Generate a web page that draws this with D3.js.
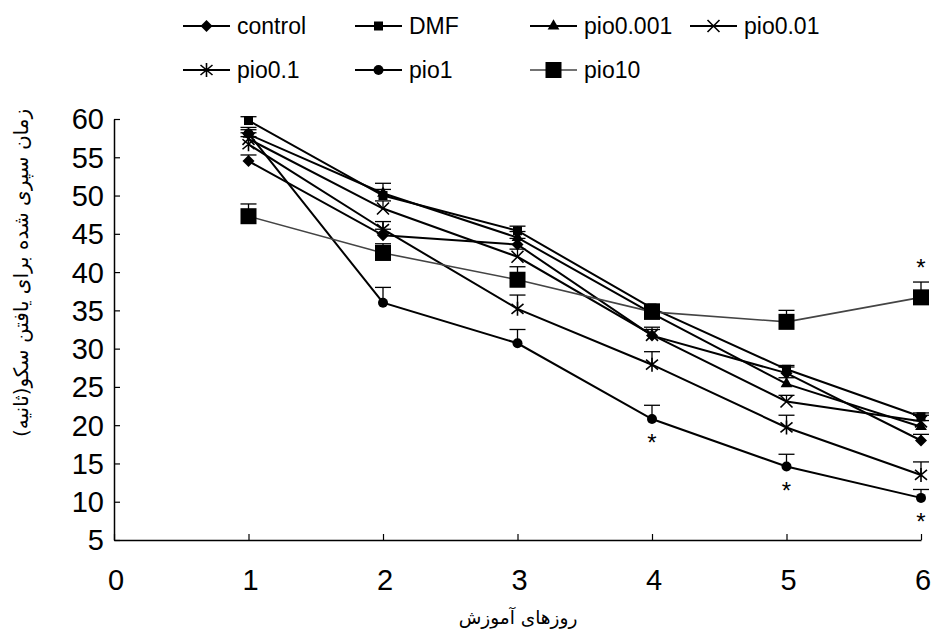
<!DOCTYPE html>
<html>
<head>
<meta charset="utf-8">
<script src="https://cdn.jsdelivr.net/npm/d3@7"></script>
<style>
  body { margin: 0; background: #fff; }
  svg text { font-family: "Liberation Sans", Arial, sans-serif; }
</style>
</head>
<body>
<svg id="chart" width="941" height="634"></svg>
<script>
// days on the x axis
const days = [1, 2, 3, 4, 5, 6];
const xTicks = [0, 1, 2, 3, 4, 5, 6];
const yTicks = [5, 10, 15, 20, 25, 30, 35, 40, 45, 50, 55, 60];

// mean time (s) per group
const control  = [54.5, 44.8, 43.6, 31.7, 26.8, 18.0];
const dmf      = [59.8, 50.0, 45.4, 35.3, 27.3, 21.1];
const pio0001  = [58.0, 50.3, 44.5, 34.6, 25.4, 19.8];
const pio001   = [57.4, 48.3, 42.0, 31.8, 23.1, 20.5];
const pio01    = [56.7, 45.6, 35.2, 27.9, 19.7, 13.5];
const pio1     = [58.1, 36.0, 30.7, 20.8, 14.6, 10.5];
const pio10    = [47.3, 42.5, 39.0, 34.8, 33.5, 36.7];

// upper error bars
const controlErr = [0.8, 0.8, 0.8, 0.8, 0.8, 0.8];
const dmfErr     = [0.5, 0.8, 0.6, 0.5, 0.5, 0.5];
const pio0001Err = [0.6, 1.3, 0.8, 0.8, 0.8, 0.8];
const pio001Err  = [0.8, 1.0, 1.0, 1.0, 0.8, 0.8];
const pio01Err   = [1.0, 1.0, 1.8, 1.7, 1.6, 1.7];
const pio1Err    = [0.8, 2.0, 1.8, 1.8, 1.6, 1.1];
const pio10Err   = [1.6, 1.2, 1.7, 1.0, 1.5, 2.0];

// significance stars: [series, day index, above/below]
const stars = [["pio1", 3, "below"], ["pio1", 4, "below"], ["pio1", 5, "below"], ["pio10", 5, "above"]];

const series = [
  {name: "control",  values: control, err: controlErr, marker: "diamond"},
  {name: "DMF",      values: dmf,     err: dmfErr,     marker: "square"},
  {name: "pio0.001", values: pio0001, err: pio0001Err, marker: "triangle"},
  {name: "pio0.01",  values: pio001,  err: pio001Err,  marker: "x"},
  {name: "pio0.1",   values: pio01,   err: pio01Err,   marker: "asterisk"},
  {name: "pio1",     values: pio1,    err: pio1Err,    marker: "circle"},
  {name: "pio10",    values: pio10,   err: pio10Err,   marker: "bigsquare", color: "#444", width: 1.6}
];

const svg = d3.select("#chart");
const x = d3.scaleLinear().domain([0, 6]).range([114, 921]);
const y = d3.scaleLinear().domain([5, 60]).range([540, 119]);

// marker drawing
function drawMarker(g, type) {
  if (type === "diamond") {
    g.append("path").attr("d", "M0,-6L6,0L0,6L-6,0Z").attr("fill", "#000");
  } else if (type === "square") {
    g.append("rect").attr("x", -4.5).attr("y", -4.5).attr("width", 9).attr("height", 9).attr("fill", "#000");
  } else if (type === "bigsquare") {
    g.append("rect").attr("x", -8).attr("y", -8).attr("width", 16).attr("height", 16).attr("fill", "#000");
  } else if (type === "triangle") {
    g.append("path").attr("d", d3.symbol(d3.symbolTriangle, 60)()).attr("fill", "#000");
  } else if (type === "circle") {
    g.append("circle").attr("r", 5).attr("fill", "#000");
  } else if (type === "x") {
    g.append("path").attr("d", "M-6,-6L6,6M-6,6L6,-6").attr("stroke", "#000").attr("stroke-width", 1.6);
  } else if (type === "asterisk") {
    g.append("path").attr("d", "M-6,-5L6,5M-6,5L6,-5M0,-7L0,7").attr("stroke", "#000").attr("stroke-width", 1.6);
  }
}

// axes
const yAxisG = svg.append("g").attr("transform", `translate(${x(0)},0)`)
  .call(d3.axisRight(y).tickValues(yTicks).tickSize(6).tickSizeOuter(0).tickFormat(""));
yAxisG.select(".domain").attr("stroke", "#000").attr("stroke-width", 1.5);
yAxisG.selectAll(".tick line").attr("stroke", "#000").attr("stroke-width", 1.2);

svg.append("g").selectAll("text").data(yTicks).join("text")
  .attr("x", 104).attr("y", d => y(d)).attr("dy", "0.36em")
  .attr("text-anchor", "end").attr("font-size", 29).text(d => d);

const xAxisG = svg.append("g").attr("transform", `translate(0,${y(5)})`)
  .call(d3.axisTop(x).tickValues(xTicks).tickSize(6).tickSizeOuter(0).tickFormat(""));
xAxisG.select(".domain").attr("stroke", "#000").attr("stroke-width", 1.5);
xAxisG.selectAll(".tick line").attr("stroke", "#000").attr("stroke-width", 1.2);

svg.append("g").selectAll("text").data(xTicks).join("text")
  .attr("x", d => x(d) + 2).attr("y", 580).attr("dy", "0.36em")
  .attr("text-anchor", "middle").attr("font-size", 29).text(d => d);

// axis titles
svg.append("text")
  .attr("x", 518).attr("y", 624)
  .attr("text-anchor", "middle").attr("font-size", 18.5)
  .style("font-family", "'DejaVu Serif', 'DejaVu Sans', serif")
  .text("روزهای آموزش");

svg.append("text")
  .attr("transform", "translate(28,273) rotate(-90)")
  .attr("text-anchor", "middle").attr("font-size", 20)
  .style("font-family", "'DejaVu Sans', sans-serif")
  .text("زمان سپری شده برای یافتن سکو(ثانیه)");

// lines, error bars, markers
const line = d3.line().x((d, i) => x(days[i])).y(d => y(d));

series.forEach(s => {
  const col = s.color || "#000";
  svg.append("path").datum(s.values)
    .attr("d", line).attr("fill", "none")
    .attr("stroke", col).attr("stroke-width", s.width || 2);

  const eb = svg.append("g");
  s.values.forEach((v, i) => {
    const cx = x(days[i]), top = y(v + s.err[i]);
    eb.append("line").attr("x1", cx).attr("x2", cx).attr("y1", y(v)).attr("y2", top)
      .attr("stroke", "#000").attr("stroke-width", 1.3);
    eb.append("line").attr("x1", cx - 8).attr("x2", cx + 8).attr("y1", top).attr("y2", top)
      .attr("stroke", "#000").attr("stroke-width", 1.3);
  });

  s.values.forEach((v, i) => {
    const g = svg.append("g").attr("transform", `translate(${x(days[i])},${y(v)})`);
    drawMarker(g, s.marker);
  });
});

// stars
stars.forEach(([name, i, pos]) => {
  const s = series.find(d => d.name === name);
  const v = s.values[i];
  const py = pos === "below" ? y(v) + 32 : y(v + s.err[i]) - 6;
  svg.append("text").attr("x", x(days[i])).attr("y", py)
    .attr("text-anchor", "middle").attr("font-size", 24).text("*");
});

// legend
const legendPos = [
  [183, 26], [355, 26], [530, 26], [690, 26],
  [183, 70], [355, 70], [530, 70]
];
series.forEach((s, i) => {
  const [lx, ly] = legendPos[i];
  const g = svg.append("g").attr("transform", `translate(${lx},${ly})`);
  g.append("line").attr("x1", 0).attr("x2", 47).attr("y1", 0).attr("y2", 0)
    .attr("stroke", s.color || "#000").attr("stroke-width", s.width || 2);
  drawMarker(g.append("g").attr("transform", "translate(23.5,0)"), s.marker);
  g.append("text").attr("x", 54).attr("y", 0).attr("dy", "0.36em")
    .attr("font-size", 23).text(s.name);
});
</script>
</body>
</html>
